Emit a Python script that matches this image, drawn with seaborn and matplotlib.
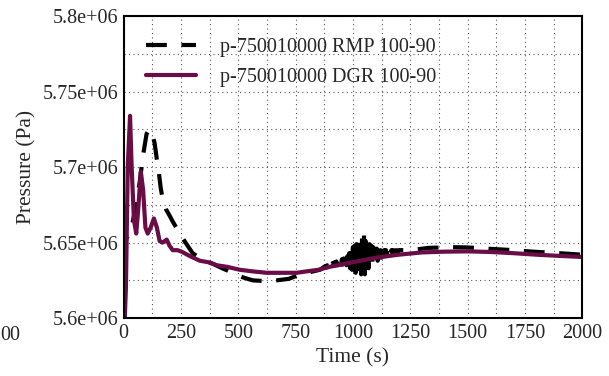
import matplotlib
matplotlib.use("Agg")
import matplotlib.pyplot as plt
from matplotlib.ticker import MultipleLocator, FuncFormatter
import seaborn as sns
import pandas as pd

# DGR series (time in s, pressure in units of 1e6 Pa)
dgr_t = [0, 5, 10, 18, 28, 35, 45, 55, 65, 75, 85, 95, 105, 118, 132, 145, 157, 170,
         188, 200, 214, 235, 253, 290, 332, 370, 406, 450, 507, 560, 624, 680, 755,
         800, 850, 900, 1000, 1100, 1200, 1300, 1400, 1500, 1600, 1700, 1800, 1900, 2000]
dgr_p = [5.673, 5.600, 5.620, 5.700, 5.734, 5.700, 5.665, 5.656, 5.675, 5.697, 5.685,
         5.660, 5.656, 5.660, 5.666, 5.660, 5.651, 5.650, 5.652, 5.648, 5.645, 5.645,
         5.644, 5.641, 5.638, 5.637, 5.635, 5.634, 5.632, 5.631, 5.630, 5.630, 5.630,
         5.631, 5.632, 5.634, 5.637, 5.640, 5.642, 5.6435, 5.644, 5.6442, 5.6438,
         5.643, 5.642, 5.6412, 5.6405]

# RMP series, including the oscillation burst around t = 1000 s
rmp_t = [0, 3, 10, 20, 35, 50, 70, 85, 100, 112, 122, 135, 145, 153, 162, 170, 185,
         200, 214, 245, 270, 301, 340, 389, 430, 476, 520, 563, 620, 668, 720, 755,
         800, 856,
         880, 884, 888, 892, 896, 900, 904, 908, 912, 916, 920, 924, 928, 932, 936,
         940, 944, 948, 952, 956, 960, 964, 968, 972, 976, 980, 984, 988, 992, 996,
         1000, 1004, 1008, 1012, 1016, 1020, 1024, 1028, 1032, 1036, 1040, 1044, 1048,
         1052, 1056, 1060, 1064, 1068, 1072, 1076, 1080, 1084, 1088, 1092, 1096, 1100,
         1104, 1108, 1112, 1116, 1120, 1124, 1128, 1132, 1136, 1140, 1144, 1148, 1152,
         1156, 1160, 1164, 1168, 1172, 1176, 1180, 1188, 1196, 1200,
         1249, 1330, 1424, 1500, 1585, 1700, 1786, 1900, 2000]
rmp_p = [5.600, 5.655, 5.652, 5.655, 5.660, 5.672, 5.690, 5.708, 5.722, 5.725, 5.724,
         5.716, 5.705, 5.697, 5.686, 5.679, 5.672, 5.668, 5.664, 5.656, 5.650, 5.643,
         5.639, 5.636, 5.633, 5.630, 5.627, 5.625, 5.6245, 5.625, 5.626, 5.628,
         5.630, 5.632,
         5.6345, 5.6335, 5.635, 5.634, 5.6355, 5.634, 5.636, 5.6345, 5.6365, 5.6345,
         5.637, 5.635, 5.6375, 5.635, 5.638, 5.6355, 5.6385, 5.6355, 5.639, 5.6355,
         5.6395, 5.6355, 5.640, 5.635, 5.641, 5.634, 5.643, 5.633, 5.645, 5.632,
         5.647, 5.631, 5.648, 5.630, 5.649, 5.630, 5.650, 5.629, 5.651, 5.629, 5.654,
         5.628, 5.656, 5.629, 5.651, 5.631, 5.650, 5.633, 5.649, 5.634, 5.648, 5.635,
         5.647, 5.636, 5.646, 5.637, 5.646, 5.638, 5.645, 5.639, 5.645, 5.640, 5.645,
         5.641, 5.645, 5.641, 5.645, 5.642, 5.645, 5.642, 5.645, 5.643, 5.645, 5.643,
         5.645, 5.644, 5.645, 5.644, 5.645,
         5.645, 5.6465, 5.647, 5.6468, 5.646, 5.645, 5.644, 5.643, 5.642]

labels = ["p-750010000 RMP 100-90", "p-750010000 DGR 100-90"]

rmp = pd.DataFrame({"t": rmp_t, "p": [v * 1e6 for v in rmp_p]})
dgr = pd.DataFrame({"t": dgr_t, "p": [v * 1e6 for v in dgr_p]})

sns.set_style("white")
plt.rcParams["font.family"] = ["Liberation Serif", "DejaVu Serif"]
plt.rcParams["font.size"] = 14.5

fig = plt.figure(figsize=(6.09, 3.76), dpi=100)
ax = fig.add_axes([0.203, 0.154, 0.753, 0.803])

sns.lineplot(data=rmp, x="t", y="p", ax=ax, color="black", linewidth=3,
             label=labels[0])
ax.lines[-1].set_dashes((5, 3.5))
sns.lineplot(data=dgr, x="t", y="p", ax=ax, color="#6a0d47", linewidth=3,
             label=labels[1])

ax.set_xlim(0, 2000)
ax.set_ylim(5.6e6, 5.8e6)
ax.xaxis.set_major_locator(MultipleLocator(250))
ax.xaxis.set_minor_locator(MultipleLocator(125))
ax.yaxis.set_major_locator(MultipleLocator(50000))
ax.yaxis.set_minor_locator(MultipleLocator(25000))
ax.yaxis.set_major_formatter(FuncFormatter(lambda v, pos: f"{v / 1e6:.3g}e+06"))
ax.grid(True, which="both", color="#555555", linestyle=(0, (1, 3)), linewidth=0.8)
ax.tick_params(which="both", length=0, labelsize=14.5, pad=4)
for s in ax.spines.values():
    s.set_color("black")
    s.set_linewidth(1.5)

ax.set_xlabel("Time (s)", fontsize=15.5)
ax.set_ylabel("Pressure (Pa)", fontsize=15.5)

leg = ax.legend(loc="upper left", frameon=False, handlelength=2.5,
                fontsize=14.5, borderaxespad=0.5, labelspacing=0.5,
                handletextpad=1.2, borderpad=0.6)

fig.text(0.0, 0.109, "00", fontsize=14.5, ha="left", va="center")

fig.savefig("out.png", dpi=100)
